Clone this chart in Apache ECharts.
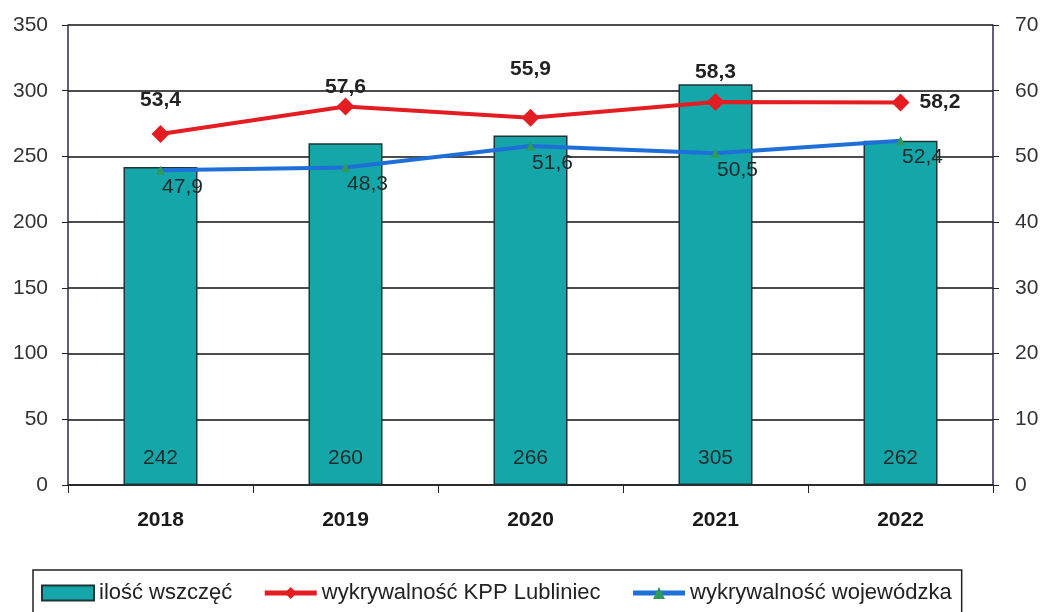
<!DOCTYPE html>
<html>
<head>
<meta charset="utf-8">
<script src="https://cdn.jsdelivr.net/npm/echarts@6/dist/echarts.min.js"></script>
<style>
  html, body { margin: 0; padding: 0; background: #fff; }
  #chart { width: 1049px; height: 612px; }
</style>
</head>
<body>
<div id="chart"></div>
<script>
const years = ['2018', '2019', '2020', '2021', '2022'];
const wszczecia = [242, 260, 266, 305, 262];
const wykrywalnoscKPP = [53.4, 57.6, 55.9, 58.3, 58.2];
const wykrywalnoscWoj = [47.9, 48.3, 51.6, 50.5, 52.4];
const seriesNames = ['ilość wszczęć', 'wykrywalność KPP Lubliniec', 'wykrywalność wojewódzka'];

// label gap above each red point (last one goes to the right)
const kppLabelGap = [14, 0, 29, 10, null];

const myChart = echarts.init(document.getElementById('chart'));
const fmt = p => String(p.value).replace('.', ',');
const font = 'Liberation Sans, Arial, sans-serif';

const redData = wykrywalnoscKPP.map((v, i) => kppLabelGap[i] === null
  ? { value: v, label: { position: 'right', distance: 10 } }
  : { value: v, label: { position: 'top', distance: kppLabelGap[i] } });

const option = {
  textStyle: { fontFamily: font },
  grid: { left: 68, right: 56, top: 25, bottom: 127 },
  legend: {
    left: 33,
    top: 570,
    padding: [12, 10, 20, 8],
    borderColor: '#222',
    borderWidth: 1.5,
    itemGap: 30,
    itemWidth: 52,
    itemHeight: 15,
    textStyle: { fontSize: 22, color: '#222', fontFamily: font },
    data: [
      { name: seriesNames[0], icon: 'rect' },
      { name: seriesNames[1], lineStyle: { width: 5 } },
      { name: seriesNames[2], lineStyle: { width: 5 } }
    ]
  },
  xAxis: {
    type: 'category',
    data: years,
    axisLine: { lineStyle: { color: '#222', width: 1.5 } },
    axisTick: { show: true, length: 8, lineStyle: { color: '#222' } },
    axisLabel: { fontSize: 21, fontWeight: 'bold', color: '#1a1a1a', margin: 25 }
  },
  yAxis: [
    {
      type: 'value', min: 0, max: 350, interval: 50,
      axisLine: { show: true, lineStyle: { color: '#2a2a50', width: 1.5 } },
      axisTick: { show: true, length: 6, lineStyle: { color: '#222' } },
      axisLabel: { fontSize: 21, color: '#333', margin: 20 },
      splitLine: { lineStyle: { color: '#111', width: 1.5 } }
    },
    {
      type: 'value', min: 0, max: 70, interval: 10,
      axisLine: { show: true, lineStyle: { color: '#2a2a50', width: 1.5 } },
      axisTick: { show: true, length: 6, lineStyle: { color: '#222' } },
      axisLabel: { fontSize: 21, color: '#333', margin: 22 },
      splitLine: { show: false }
    }
  ],
  series: [
    {
      name: seriesNames[0],
      type: 'bar',
      barWidth: '40%',
      data: wszczecia,
      itemStyle: { color: '#14a6a8', borderColor: '#1d3535', borderWidth: 1.5 },
      label: {
        show: true, position: 'insideBottom', distance: 16,
        fontSize: 21, color: '#1e2a2a'
      },
      z: 1
    },
    {
      name: seriesNames[1],
      type: 'line',
      yAxisIndex: 1,
      data: redData,
      color: '#e41d22',
      lineStyle: { width: 4, color: '#e41d22' },
      symbol: 'diamond',
      symbolSize: 18,
      itemStyle: { color: '#e41d22' },
      label: {
        show: true, fontSize: 21, fontWeight: 'bold', color: '#222', formatter: fmt
      },
      z: 3
    },
    {
      name: seriesNames[2],
      type: 'line',
      yAxisIndex: 1,
      data: wykrywalnoscWoj,
      color: '#1f6fd8',
      lineStyle: { width: 4, color: '#1f6fd8' },
      symbol: 'triangle',
      symbolSize: 9,
      itemStyle: { color: '#2f9a5a' },
      label: {
        show: true, position: 'bottom', distance: 2, offset: [22, 0],
        fontSize: 21, color: '#1c2a2a', formatter: fmt
      },
      z: 2
    }
  ]
};

myChart.setOption(option);
window.addEventListener('resize', () => myChart.resize());
</script>
</body>
</html>
